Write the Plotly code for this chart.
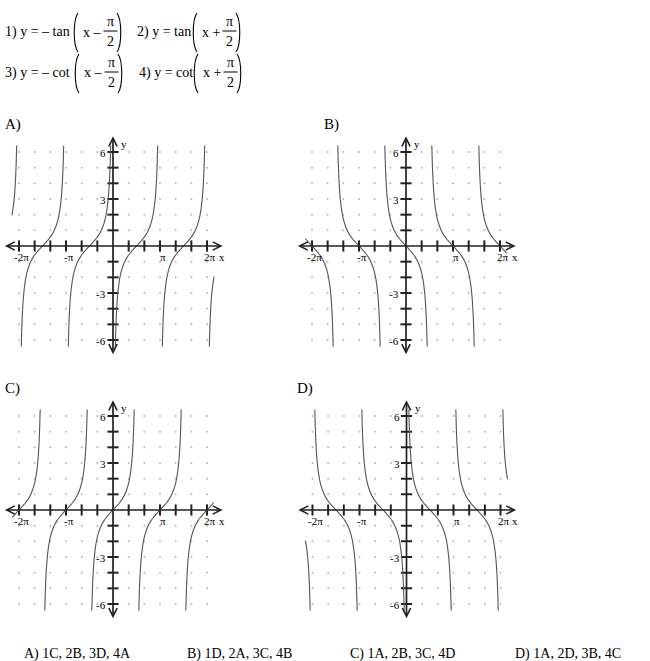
import math

import plotly.graph_objects as go

W, H = 650, 661
FONT = "Liberation Serif"
INK = "#222222"
CURVE = "#555555"

# one increasing branch of the curves
# (offset from the zero crossing in radians, height in y units)
PROFILE_DX = [-1.416, -1.39, -1.35, -1.30, -1.25, -1.18, -1.10, -1.00, -0.90, -0.75,
              -0.60, -0.45, -0.30, -0.15, 0.0, 0.15, 0.30, 0.45, 0.60, 0.75,
              0.90, 1.00, 1.10, 1.18, 1.25, 1.30, 1.35, 1.39, 1.416]
PROFILE_Y = [-6.41, -5.47, -4.46, -3.60, -3.01, -2.43, -1.96, -1.56, -1.26, -0.93,
             -0.68, -0.48, -0.31, -0.15, 0.0, 0.15, 0.31, 0.48, 0.68, 0.93,
             1.26, 1.56, 1.96, 2.43, 3.01, 3.60, 4.46, 5.47, 6.41]
X_LIMIT = 6.8  # curves are drawn for |x| <= this

PANEL_NAMES = ["A)", "B)", "C)", "D)"]
PANEL_SIGN = [1, -1, 1, -1]  # increasing / decreasing branches
PANEL_ZEROS = [[-5, -3, -1, 1, 3, 5],  # x-intercepts, in units of pi/2
               [-4, -2, 0, 2, 4],
               [-4, -2, 0, 2, 4],
               [-5, -3, -1, 1, 3, 5]]

# axes: x ticks every pi/3, y ticks every 1
STEPS = list(range(-6, 7))
X_LABEL_STEPS = [-6, -3, 3, 6]
X_LABELS = ["-2π", "-π", "π", "2π"]
Y_LABELS = [6, 3, -3, -6]
AX_END = 7

EQ_PREFIX = ["1) y = – tan", "2) y = tan", "3) y = – cot", "4) y = cot"]
EQ_OP = ["x –", "x +", "x –", "x +"]

ANSWERS = ["A) 1C, 2B, 3D, 4A", "B) 1D, 2A, 3C, 4B", "C) 1A, 2B, 3C, 4D", "D) 1A, 2D, 3B, 4C"]

# layout in pixels
STEP = math.pi / 3
TICK_PX = 15.67
HALF = 112
PANEL_CX = [113, 406, 113, 406.5]
PANEL_CY = [246, 246, 510, 510]
LABEL_XY = [(3, 124), (322, 124), (3, 388), (295, 388)]
EQ_XY = [(3, 32), (135, 32), (3, 73), (137, 73)]
EQ_PAREN_X = [73, 192, 74, 193]
ANSWER_X = [22, 185, 348, 513]
ANSWER_Y = 654


def px(x, y):
    return x / W, 1 - y / H


def text(x, y, s, size=14, anchor="left"):
    fx, fy = px(x, y)
    return dict(x=fx, y=fy, xref="paper", yref="paper", text=s, showarrow=False,
                xanchor=anchor, yanchor="middle",
                font=dict(family=FONT, size=size, color="black"))


def paren(x0, top, bot, left=True):
    # a tall thin bracket drawn as a cubic curve
    if left:
        pts = [(x0 + 5, top), (x0, top + 7), (x0, bot - 7), (x0 + 5, bot)]
    else:
        pts = [(x0, top), (x0 + 5, top + 7), (x0 + 5, bot - 7), (x0, bot)]
    p = [px(*q) for q in pts]
    path = "M {:.5f},{:.5f} C {:.5f},{:.5f} {:.5f},{:.5f} {:.5f},{:.5f}".format(
        p[0][0], p[0][1], p[1][0], p[1][1], p[2][0], p[2][1], p[3][0], p[3][1])
    return dict(type="path", path=path, xref="paper", yref="paper",
                line=dict(color="black", width=1.1))


fig = go.Figure()
annotations = []
shapes = []

for i, name in enumerate(PANEL_NAMES):
    n = "" if i == 0 else str(i + 1)
    xa, ya = "x" + n, "y" + n
    cx, cy = PANEL_CX[i], PANEL_CY[i]
    xr = HALF / TICK_PX * STEP
    yr = HALF / TICK_PX
    fig.update_layout({
        "xaxis" + n: dict(domain=[(cx - HALF) / W, (cx + HALF) / W], range=[-xr, xr],
                          visible=False, fixedrange=True, anchor=ya),
        "yaxis" + n: dict(domain=[1 - (cy + HALF) / H, 1 - (cy - HALF) / H], range=[-yr, yr],
                          visible=False, fixedrange=True, anchor=xa),
    })

    # dotted grid
    gx = [k * STEP for k in STEPS for j in STEPS]
    gy = [j for k in STEPS for j in STEPS]
    fig.add_trace(go.Scatter(x=gx, y=gy, mode="markers", xaxis=xa, yaxis=ya,
                             marker=dict(size=2, color="#b8b8b8"), hoverinfo="skip"))

    # axes with arrow heads at both ends
    for (x, y, ax, ay) in [(AX_END * STEP, 0, -AX_END * STEP, 0), (0, AX_END, 0, -AX_END)]:
        annotations.append(dict(x=x, y=y, ax=ax, ay=ay, xref=xa, yref=ya, axref=xa, ayref=ya,
                                text="", showarrow=True, arrowside="end+start",
                                arrowhead=5, startarrowhead=5, arrowsize=0.95,
                                startarrowsize=0.95, arrowwidth=1.7, arrowcolor=INK))

    # tick marks
    ks = [k for k in STEPS if k != 0]
    fig.add_trace(go.Scatter(x=[k * STEP for k in ks], y=[0] * len(ks), mode="markers",
                             xaxis=xa, yaxis=ya, hoverinfo="skip",
                             marker=dict(symbol="line-ns", size=8,
                                         line=dict(width=2, color=INK))))
    fig.add_trace(go.Scatter(x=[0] * len(ks), y=ks, mode="markers",
                             xaxis=xa, yaxis=ya, hoverinfo="skip",
                             marker=dict(symbol="line-ew", size=8,
                                         line=dict(width=2, color=INK))))

    # curve branches
    for z in PANEL_ZEROS[i]:
        c = z * math.pi / 2
        bx, by = [], []
        for dx, y in zip(PROFILE_DX, PROFILE_Y):
            if abs(c + dx) <= X_LIMIT:
                bx.append(c + dx)
                by.append(PANEL_SIGN[i] * y)
        if len(bx) > 1:
            fig.add_trace(go.Scatter(x=bx, y=by, mode="lines", xaxis=xa, yaxis=ya,
                                     line=dict(color=CURVE, width=1.1, shape="spline"),
                                     hoverinfo="skip"))

    # tick labels
    for k, s in zip(X_LABEL_STEPS, X_LABELS):
        annotations.append(dict(x=k * STEP, y=0, xref=xa, yref=ya, text=s, showarrow=False,
                                xshift=3, yshift=-11, xanchor="center", yanchor="middle",
                                font=dict(family=FONT, size=11, color="black")))
    for v in Y_LABELS:
        annotations.append(dict(x=0, y=v, xref=xa, yref=ya, text=str(v),
                                showarrow=False, xshift=-5, yshift=-1,
                                xanchor="right", yanchor="middle",
                                font=dict(family=FONT, size=11, color="black")))
    annotations.append(dict(x=AX_END * STEP, y=0, xref=xa, yref=ya, text="x", showarrow=False,
                            xshift=-1, yshift=-11, xanchor="center", yanchor="middle",
                            font=dict(family=FONT, size=11, color="black")))
    annotations.append(dict(x=0, y=AX_END, xref=xa, yref=ya, text="y", showarrow=False,
                            xshift=11, yshift=-8, xanchor="center", yanchor="middle",
                            font=dict(family=FONT, size=11, color="black")))

    annotations.append(text(LABEL_XY[i][0], LABEL_XY[i][1], name, size=15))

# equations in the header
for i, pre in enumerate(EQ_PREFIX):
    x0, y0 = EQ_XY[i]
    p = EQ_PAREN_X[i]
    annotations.append(text(x0, y0, pre))
    shapes.append(paren(p, y0 - 19, y0 + 20, left=True))
    annotations.append(text(p + 8, y0, EQ_OP[i]))
    fc = p + 37.5
    annotations.append(text(fc, y0 - 10.5, "π", anchor="center"))
    annotations.append(text(fc, y0 + 9.5, "2", anchor="center"))
    bx0, by0 = px(fc - 7, y0 - 1)
    bx1, _ = px(fc + 7, y0 - 1)
    shapes.append(dict(type="line", xref="paper", yref="paper", x0=bx0, x1=bx1, y0=by0, y1=by0,
                       line=dict(color="black", width=1)))
    shapes.append(paren(p + 44, y0 - 19, y0 + 20, left=False))

# answer choices
for a, x in zip(ANSWERS, ANSWER_X):
    annotations.append(text(x, ANSWER_Y, a, size=14))

fig.update_layout(
    width=W, height=H,
    margin=dict(l=0, r=0, t=0, b=0),
    paper_bgcolor="white", plot_bgcolor="white",
    showlegend=False,
    annotations=annotations,
    shapes=shapes,
)

# the page body has a default margin; drop it so the figure sits at the top-left corner
fig.write_html("out.html", config={"displayModeBar": False},
               post_script="document.body.style.margin = '0px';")
